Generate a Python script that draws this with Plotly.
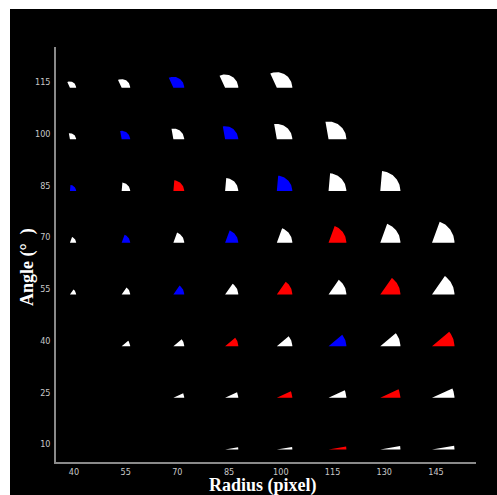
import numpy as np
import plotly.graph_objects as go

# ---- data ----
radii = [40, 55, 70, 85, 100, 115, 130, 145]
angles = [115, 100, 85, 70, 55, 40, 25, 10]
# per angle row (top to bottom), colour class per radius: W white, B blue, R red, '-' none
status_rows = [
    ["W", "W", "B", "W", "W", "-", "-", "-"],   # 115
    ["W", "B", "W", "B", "W", "W", "-", "-"],   # 100
    ["B", "W", "R", "W", "B", "W", "W", "-"],   # 85
    ["W", "B", "W", "B", "W", "R", "W", "W"],   # 70
    ["W", "W", "B", "W", "R", "W", "R", "W"],   # 55
    ["-", "W", "W", "R", "W", "B", "W", "R"],   # 40
    ["-", "-", "W", "W", "R", "W", "R", "W"],   # 25
    ["-", "-", "-", "W", "W", "R", "W", "W"],   # 10
]
x_ticks = [40, 55, 70, 85, 100, 115, 130, 145]
y_ticks = [10, 25, 40, 55, 70, 85, 100, 115]

# ---- styling ----
colors = {"W": "#ffffff", "B": "#0000ff", "R": "#ff0000"}
W, H = 497, 495
ml, mr, mt, mb = 56, 21, 47, 33
xr = [34.8, 156.6]
yr = [4.8, 125.2]
pw = W - ml - mr
ph = H - mt - mb
ppu = pw / (xr[1] - xr[0])          # pixels per data unit
size_k = 0.155 / ppu                # sector radius (data units) per radius value
off_x = -4.0 / ppu
off_y = -5.5 / ppu

fig = go.Figure()
for key in ["W", "B", "R"]:
    xs, ys = [], []
    for ai, ang in enumerate(angles):
        for ri, rad in enumerate(radii):
            if status_rows[ai][ri] != key:
                continue
            R = size_k * rad
            cx = rad + off_x
            cy = ang + off_y
            t = np.radians(np.linspace(0, ang, 40))
            xs += [cx] + list(cx + R * np.cos(t)) + [cx, None]
            ys += [cy] + list(cy + R * np.sin(t)) + [cy, None]
    fig.add_trace(go.Scatter(
        x=xs, y=ys, mode="lines", fill="toself",
        fillcolor=colors[key], line=dict(width=0, color=colors[key]),
        hoverinfo="skip", showlegend=False,
    ))

tickfont = dict(family="Liberation Sans Narrow, DejaVu Sans Condensed, Arial Narrow, sans-serif",
                size=9, color="#c8c8c8")
fig.update_layout(
    width=W, height=H,
    margin=dict(l=ml, r=mr, t=mt, b=mb, pad=0),
    paper_bgcolor="black", plot_bgcolor="black",
    xaxis=dict(range=xr, tickvals=x_ticks, showgrid=False, zeroline=False,
               showline=True, linecolor="#8a8a8a", linewidth=1.5,
               ticks="", tickfont=tickfont, ticklabelstandoff=0),
    yaxis=dict(range=yr, tickvals=y_ticks, showgrid=False, zeroline=False,
               showline=True, linecolor="#8a8a8a", linewidth=1.5,
               ticks="", tickfont=tickfont, ticklabelstandoff=2),
    shapes=[
        dict(type="rect", xref="paper", yref="paper", layer="above",
             x0=-ml / pw - 0.01, x1=(10 - ml) / pw, y0=-mb / ph - 0.01, y1=1 + mt / ph + 0.01,
             fillcolor="white", line=dict(width=0)),
        dict(type="rect", xref="paper", yref="paper", layer="above",
             x0=-ml / pw - 0.01, x1=1 + mr / pw + 0.01, y0=(ph + mt - 9) / ph, y1=1 + mt / ph + 0.01,
             fillcolor="white", line=dict(width=0)),
    ],
    annotations=[
        dict(text="<b>Radius (pixel)</b>", xref="paper", yref="paper",
             x=(263 - ml) / pw, y=(ph + mt - 485.5) / ph, xanchor="center", yanchor="middle",
             showarrow=False,
             font=dict(family="Liberation Serif, Times New Roman, serif", size=18, color="white")),
        dict(text="<b>Angle (°\u00a0\u00a0)</b>", xref="paper", yref="paper",
             x=(27 - ml) / pw, y=(ph + mt - 267) / ph, xanchor="center", yanchor="middle",
             textangle=-90, showarrow=False,
             font=dict(family="Liberation Serif, Times New Roman, serif", size=18, color="white")),
    ],
)
fig.write_html("out.html")
